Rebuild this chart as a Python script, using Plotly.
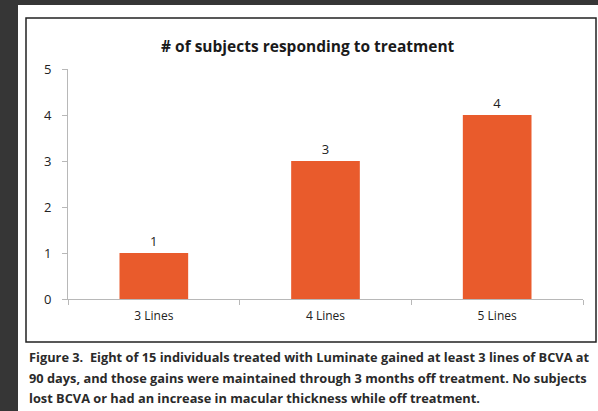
import plotly.graph_objects as go

categories = ["3 Lines", "4 Lines", "5 Lines"]
values = [1, 3, 4]
y_ticks = [0, 1, 2, 3, 4, 5]
title_text = "# of subjects responding to treatment"
caption_lines = [
    "Figure 3.  Eight of 15 individuals treated with Luminate gained at least 3 lines of BCVA at",
    "90 days, and those gains were maintained through 3 months off treatment. No subjects",
    "lost BCVA or had an increase in macular thickness while off treatment.",
]

W, H = 598, 411
L, R, T, B = 68, 583, 69, 299  # plot area in pixels


def px(x):
    return (x - L) / (R - L)


def py(y):
    return (B - y) / (B - T)


FONT = "Open Sans"
BAR = "#E95B2C"

fig = go.Figure(
    go.Bar(
        x=categories,
        y=values,
        width=0.4,
        marker=dict(color=BAR, line=dict(width=0)),
        text=[str(v) for v in values],
        textposition="outside",
        cliponaxis=False,
        textfont=dict(family=FONT, size=13, color="#222222"),
    )
)

shapes = [
    dict(type="rect", xref="paper", yref="paper", x0=px(18), x1=px(600), y0=py(5), y1=py(413),
         fillcolor="white", line=dict(width=0), layer="below"),
    dict(type="rect", xref="paper", yref="paper", x0=px(26), x1=px(596), y0=py(18), y1=py(342),
         fillcolor="rgba(0,0,0,0)", line=dict(color="#222222", width=1.5), layer="below"),
]

annotations = [
    dict(text="<b>" + title_text + "</b>", xref="paper", yref="paper", x=px(308), y=py(46),
         xanchor="center", yanchor="middle", showarrow=False,
         font=dict(family=FONT, size=15.5, color="#1a1a1a")),
]
for i, line in enumerate(caption_lines):
    annotations.append(
        dict(text="<b>" + line + "</b>", xref="paper", yref="paper", x=px(27), y=py(357 + 20.5 * i),
             xanchor="left", yanchor="middle", showarrow=False,
             font=dict(family=FONT, size=12.8, color="#2a2a2a"))
    )

fig.update_layout(
    width=W, height=H,
    margin=dict(l=L, r=W - R, t=T, b=H - B, pad=0),
    paper_bgcolor="#363636",
    plot_bgcolor="rgba(0,0,0,0)",
    showlegend=False,
    shapes=shapes,
    annotations=annotations,
    bargap=0.6,
)
fig.update_yaxes(
    range=[0, 5], tickvals=y_ticks, showgrid=False, zeroline=False,
    showline=True, linecolor="#b8b8b8", linewidth=1,
    ticks="outside", ticklen=5, tickcolor="#b8b8b8",
    tickfont=dict(family=FONT, size=13, color="#222222"),
    ticklabelstandoff=8,
)
fig.update_xaxes(
    showgrid=False, zeroline=False,
    showline=True, linecolor="#b8b8b8", linewidth=1,
    ticks="outside", ticklen=5, tickcolor="#b8b8b8", tickson="boundaries",
    tickfont=dict(family=FONT, size=12, color="#222222"),
    ticklabelstandoff=6,
)

fig.write_html("out.html")
